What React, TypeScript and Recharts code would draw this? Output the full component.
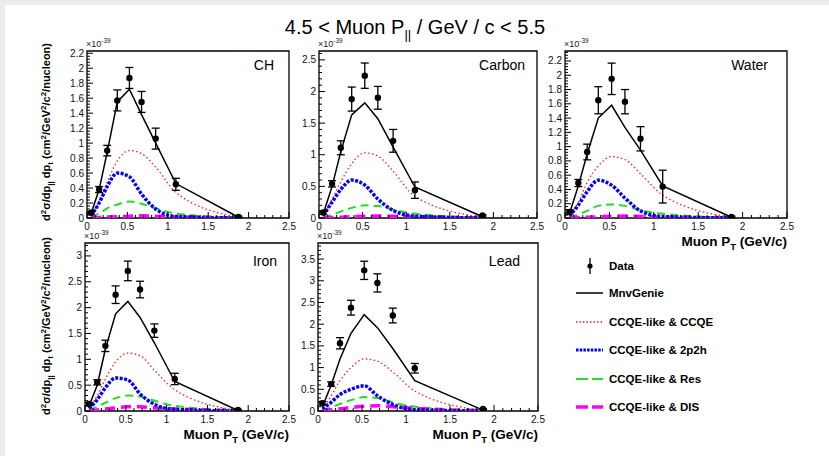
import React from 'react';
import {
  ComposedChart,
  Line,
  Scatter,
  ErrorBar,
  XAxis,
  YAxis,
  ReferenceArea,
} from 'recharts';

const FONT = '"Liberation Sans", Arial, Helvetica, sans-serif';

// bin centres in muon pT (GeV/c)
const ptBins = [0.05, 0.15, 0.25, 0.375, 0.525, 0.675, 0.85, 1.1, 1.875];
const xMajor = [0, 0.5, 1, 1.5, 2, 2.5];

// CH
const chMeasured = [0.07, 0.38, 0.9, 1.57, 1.87, 1.55, 1.06, 0.45, 0.015];
const chError = [0.02, 0.04, 0.07, 0.14, 0.14, 0.14, 0.14, 0.08, 0.01];
const chGenie = [0.06, 0.38, 0.88, 1.55, 1.72, 1.38, 1.0, 0.46, 0.01];
const chQE = [0.03, 0.22, 0.48, 0.76, 0.9, 0.86, 0.68, 0.34, 0.01];
const ch2p2h = [0.03, 0.2, 0.42, 0.6, 0.55, 0.32, 0.12, 0.02, 0.0];
const chRes = [0.01, 0.06, 0.13, 0.18, 0.22, 0.19, 0.13, 0.06, 0.005];
const chDis = [0.003, 0.008, 0.012, 0.018, 0.025, 0.03, 0.025, 0.012, 0.002];
const chYMajor = [0, 0.2, 0.4, 0.6, 0.8, 1, 1.2, 1.4, 1.6, 1.8, 2, 2.2];

// Carbon
const cMeasured = [0.086, 0.54, 1.11, 1.88, 2.25, 1.9, 1.22, 0.44, 0.04];
const cError = [0.03, 0.05, 0.11, 0.19, 0.2, 0.18, 0.18, 0.13, 0.01];
const cGenie = [0.07, 0.5, 1.05, 1.63, 1.82, 1.57, 1.12, 0.49, 0.02];
const cQE = [0.04, 0.3, 0.57, 0.86, 1.03, 0.98, 0.74, 0.34, 0.01];
const c2p2h = [0.04, 0.25, 0.45, 0.6, 0.52, 0.3, 0.12, 0.03, 0];
const cRes = [0.01, 0.05, 0.1, 0.16, 0.2, 0.19, 0.13, 0.07, 0.005];
const cDis = [0.003, 0.008, 0.013, 0.02, 0.028, 0.032, 0.027, 0.014, 0.002];
const cYMajor = [0, 0.5, 1, 1.5, 2, 2.5];

// Water
const wMeasured = [0.084, 0.49, 0.925, 1.65, 1.95, 1.63, 1.11, 0.44, 0.015];
const wError = [0.03, 0.05, 0.11, 0.19, 0.22, 0.17, 0.17, 0.23, 0.01];
const wGenie = [0.06, 0.45, 0.9, 1.4, 1.58, 1.27, 0.95, 0.45, 0.01];
const wQE = [0.03, 0.22, 0.5, 0.73, 0.86, 0.82, 0.62, 0.32, 0.01];
const w2p2h = [0.03, 0.18, 0.37, 0.53, 0.46, 0.28, 0.1, 0.02, 0];
const wRes = [0.01, 0.05, 0.1, 0.17, 0.19, 0.17, 0.11, 0.06, 0.005];
const wDis = [0.003, 0.007, 0.011, 0.017, 0.024, 0.027, 0.022, 0.011, 0.002];
const wYMajor = [0, 0.2, 0.4, 0.6, 0.8, 1, 1.2, 1.4, 1.6, 1.8, 2, 2.2];

// Iron
const feMeasured = [0.135, 0.555, 1.26, 2.25, 2.71, 2.35, 1.555, 0.62, 0.02];
const feError = [0.03, 0.05, 0.11, 0.17, 0.19, 0.16, 0.13, 0.11, 0.01];
const feGenie = [0.1, 0.5, 1.2, 1.88, 2.12, 1.81, 1.32, 0.57, 0.01];
const feQE = [0.05, 0.3, 0.62, 0.95, 1.12, 1.07, 0.79, 0.41, 0.01];
const fe2p2h = [0.05, 0.22, 0.45, 0.64, 0.6, 0.33, 0.13, 0.03, 0];
const feRes = [0.02, 0.08, 0.16, 0.25, 0.3, 0.28, 0.2, 0.1, 0.01];
const feDis = [0.01, 0.02, 0.04, 0.06, 0.08, 0.08, 0.06, 0.04, 0.005];
const feYMajor = [0, 0.5, 1, 1.5, 2, 2.5, 3];

// Lead
const pbMeasured = [0.18, 0.62, 1.56, 2.38, 3.24, 2.95, 2.2, 0.985, 0.046];
const pbError = [0.04, 0.05, 0.13, 0.17, 0.21, 0.21, 0.17, 0.11, 0.01];
const pbGenie = [0.1, 0.6, 1.2, 1.79, 2.22, 1.92, 1.44, 0.7, 0.02];
const pbQE = [0.05, 0.35, 0.7, 1.0, 1.2, 1.15, 0.9, 0.46, 0.01];
const pb2p2h = [0.05, 0.2, 0.38, 0.5, 0.58, 0.35, 0.15, 0.03, 0];
const pbRes = [0.02, 0.08, 0.16, 0.25, 0.32, 0.3, 0.2, 0.1, 0.01];
const pbDis = [0.01, 0.03, 0.05, 0.08, 0.11, 0.12, 0.1, 0.06, 0.01];
const pbYMajor = [0, 0.5, 1, 1.5, 2, 2.5, 3, 3.5];

type Panel = {
  name: string;
  left: number;
  top: number;
  width: number;
  height: number;
  yMax: number;
  yMajor: number[];
  measured: number[];
  error: number[];
  genie: number[];
  qe: number[];
  mec: number[];
  res: number[];
  dis: number[];
  labelX: number;
  labelY: number;
  xTitle: boolean;
};

const panels: Panel[] = [
  { name: 'CH', left: 87, top: 51, width: 202, height: 167, yMax: 2.23, yMajor: chYMajor, measured: chMeasured, error: chError, genie: chGenie, qe: chQE, mec: ch2p2h, res: chRes, dis: chDis, labelX: 274, labelY: 70, xTitle: false },
  { name: 'Carbon', left: 319, top: 51, width: 218, height: 167, yMax: 2.64, yMajor: cYMajor, measured: cMeasured, error: cError, genie: cGenie, qe: cQE, mec: c2p2h, res: cRes, dis: cDis, labelX: 525, labelY: 70, xTitle: false },
  { name: 'Water', left: 565, top: 51, width: 222, height: 167, yMax: 2.34, yMajor: wYMajor, measured: wMeasured, error: wError, genie: wGenie, qe: wQE, mec: w2p2h, res: wRes, dis: wDis, labelX: 768, labelY: 70, xTitle: true },
  { name: 'Iron', left: 85, top: 243, width: 204, height: 168, yMax: 3.25, yMajor: feYMajor, measured: feMeasured, error: feError, genie: feGenie, qe: feQE, mec: fe2p2h, res: feRes, dis: feDis, labelX: 277, labelY: 266, xTitle: true },
  { name: 'Lead', left: 318, top: 243, width: 220, height: 168, yMax: 3.87, yMajor: pbYMajor, measured: pbMeasured, error: pbError, genie: pbGenie, qe: pbQE, mec: pb2p2h, res: pbRes, dis: pbDis, labelX: 520, labelY: 266, xTitle: true },
];

const Y_W = 40;
const M_TOP = 14;
const M_RIGHT = 12;
const X_H = 22;

const fmt = (v: number) => String(parseFloat(v.toFixed(2)));
const isMajor = (majors: number[], v: number) => majors.some((m) => Math.abs(m - v) < 1e-6);

// ROOT-like minor ticks: 5 subdivisions per major step
function withMinor(majors: number[], max: number) {
  const step = (majors[1] - majors[0]) / 5;
  const out: number[] = [];
  for (let i = 0; i * step <= max + 1e-9; i++) out.push(Math.round(i * step * 1e6) / 1e6);
  return out;
}

const makeYTick = (majors: number[]) => (props: any) => {
  const { y, payload } = props;
  const major = isMajor(majors, payload.value);
  return (
    <g>
      <line x1={Y_W} x2={Y_W + (major ? 6 : 3)} y1={y} y2={y} stroke="#000" strokeWidth={1} />
      {major && (
        <text x={Y_W - 3} y={y + 3.5} textAnchor="end" fontSize={10} fontFamily={FONT} fill="#111">
          {fmt(payload.value)}
        </text>
      )}
    </g>
  );
};

const makeXTick = (bottom: number) => (props: any) => {
  const { x, payload } = props;
  const major = isMajor(xMajor, payload.value);
  return (
    <g>
      <line x1={x} x2={x} y1={bottom} y2={bottom - (major ? 6 : 3)} stroke="#000" strokeWidth={1} />
      {major && (
        <text x={x} y={bottom + 12} textAnchor="middle" fontSize={10} fontFamily={FONT} fill="#111">
          {fmt(payload.value)}
        </text>
      )}
    </g>
  );
};

const Dot = (props: any) => <circle cx={props.cx} cy={props.cy} r={3.2} fill="#000" />;

function PanelChart({ p }: { p: Panel }) {
  const rows = ptBins.map((x, i) => ({
    x,
    data: p.measured[i],
    err: p.error[i],
    genie: p.genie[i],
    qe: p.qe[i],
    mec: p.mec[i],
    res: p.res[i],
    dis: p.dis[i],
  }));
  const w = p.width + Y_W + M_RIGHT;
  const h = p.height + M_TOP + X_H;
  return (
    <div style={{ position: 'absolute', left: p.left - Y_W, top: p.top - M_TOP }}>
      <ComposedChart width={w} height={h} data={rows} margin={{ top: M_TOP, right: M_RIGHT, bottom: 0, left: 0 }}>
        <XAxis
          dataKey="x"
          type="number"
          domain={[0, 2.5]}
          ticks={withMinor([0, 0.5], 2.5)}
          interval={0}
          height={X_H}
          axisLine={false}
          tickLine={false}
          tick={makeXTick(M_TOP + p.height)}
          allowDataOverflow
        />
        <YAxis
          type="number"
          domain={[0, p.yMax]}
          ticks={withMinor(p.yMajor, p.yMax)}
          interval={0}
          width={Y_W}
          axisLine={false}
          tickLine={false}
          tick={makeYTick(p.yMajor)}
          allowDataOverflow
        />
        <Line dataKey="qe" type="monotone" stroke="#ff1a1a" strokeWidth={1.3} strokeDasharray="1.5 2.5" dot={false} isAnimationActive={false} />
        <Line dataKey="res" type="monotone" stroke="#22dd22" strokeWidth={2} strokeDasharray="8 5" dot={false} isAnimationActive={false} />
        <Line dataKey="dis" type="monotone" stroke="#ff00ff" strokeWidth={3.5} strokeDasharray="10 6" dot={false} isAnimationActive={false} />
        <Line dataKey="mec" type="monotone" stroke="#0000ff" strokeWidth={3.5} strokeDasharray="3 1.5" dot={false} isAnimationActive={false} />
        <Line dataKey="genie" type="linear" stroke="#000" strokeWidth={1.5} dot={false} isAnimationActive={false} />
        <Scatter dataKey="data" fill="#000" shape={Dot} isAnimationActive={false}>
          <ErrorBar dataKey="err" direction="y" width={4} stroke="#000" strokeWidth={1.3} />
        </Scatter>
        <ReferenceArea x1={0} x2={2.5} y1={0} y2={p.yMax} fill="none" stroke="#000" strokeWidth={1.3} ifOverflow="visible" />
      </ComposedChart>
    </div>
  );
}

function YTitle({ cx, cy }: { cx: number; cy: number }) {
  return (
    <text transform={`translate(${cx},${cy}) rotate(-90)`} textAnchor="middle" fontSize={11} fontWeight="bold">
      d<tspan dy={-4} fontSize={8}>2</tspan>
      <tspan dy={4}>σ/dp</tspan>
      <tspan dy={3} fontSize={8}>||</tspan>
      <tspan dy={-3}> dp</tspan>
      <tspan dy={3} fontSize={8}>t</tspan>
      <tspan dy={-3}> (cm</tspan>
      <tspan dy={-4} fontSize={8}>2</tspan>
      <tspan dy={4}>/GeV</tspan>
      <tspan dy={-4} fontSize={8}>2</tspan>
      <tspan dy={4}>/c</tspan>
      <tspan dy={-4} fontSize={8}>2</tspan>
      <tspan dy={4}>/nucleon)</tspan>
    </text>
  );
}

function XTitle({ right, y }: { right: number; y: number }) {
  return (
    <text x={right} y={y} textAnchor="end" fontSize={13.5} fontWeight="bold">
      Muon P<tspan dy={4} fontSize={9.5}>T</tspan>
      <tspan dy={-4}> (GeV/c)</tspan>
    </text>
  );
}

const legendRows = [
  { label: 'MnvGenie', y: 293, stroke: '#000', width: 1.5, dash: undefined },
  { label: 'CCQE-like & CCQE', y: 322, stroke: '#ff1a1a', width: 1.3, dash: '1.5 2' },
  { label: 'CCQE-like & 2p2h', y: 350, stroke: '#0000ff', width: 3, dash: '2.5 1.2' },
  { label: 'CCQE-like & Res', y: 379, stroke: '#22dd22', width: 2, dash: '12 4' },
  { label: 'CCQE-like & DIS', y: 407, stroke: '#ff00ff', width: 3.5, dash: '12 4' },
];

export default function App() {
  return (
    <div style={{ position: 'absolute', left: 0, top: 0, width: 829, height: 456, background: '#ececec', fontFamily: FONT }}>
      <div style={{ position: 'absolute', left: 5, top: 5, width: 824, height: 451, background: '#fff' }} />
      {panels.map((p) => (
        <PanelChart key={p.name} p={p} />
      ))}
      <svg width={829} height={456} style={{ position: 'absolute', left: 0, top: 0, pointerEvents: 'none' }} fontFamily={FONT}>
        <text x={415} y={34} textAnchor="middle" fontSize={20}>
          {'4.5 < Muon P'}
          <tspan dy={5} fontSize={13}>||</tspan>
          <tspan dy={-5}>{' / GeV / c < 5.5'}</tspan>
        </text>
        {panels.map((p) => (
          <g key={p.name}>
            <text x={p.labelX} y={p.labelY} textAnchor="end" fontSize={14}>
              {p.name}
            </text>
            <text x={p.left - 1} y={p.top - 4} fontSize={9} fill="#222">
              ×10<tspan dy={-4} fontSize={6.5}>-39</tspan>
            </text>
            {p.xTitle && <XTitle right={p.left + p.width} y={p.top + p.height + 28} />}
          </g>
        ))}
        <YTitle cx={50} cy={132} />
        <YTitle cx={50} cy={326} />
        <line x1={590} x2={590} y1={258} y2={274} stroke="#000" strokeWidth={1.3} />
        <circle cx={590} cy={266} r={2.6} fill="#000" />
        <text x={609} y={270} fontSize={11.5} fontWeight="bold">Data</text>
        {legendRows.map((r) => (
          <g key={r.label}>
            <line x1={576} x2={603} y1={r.y} y2={r.y} stroke={r.stroke} strokeWidth={r.width} strokeDasharray={r.dash} />
            <text x={609} y={r.y + 4} fontSize={11.5} fontWeight="bold">{r.label}</text>
          </g>
        ))}
      </svg>
    </div>
  );
}
